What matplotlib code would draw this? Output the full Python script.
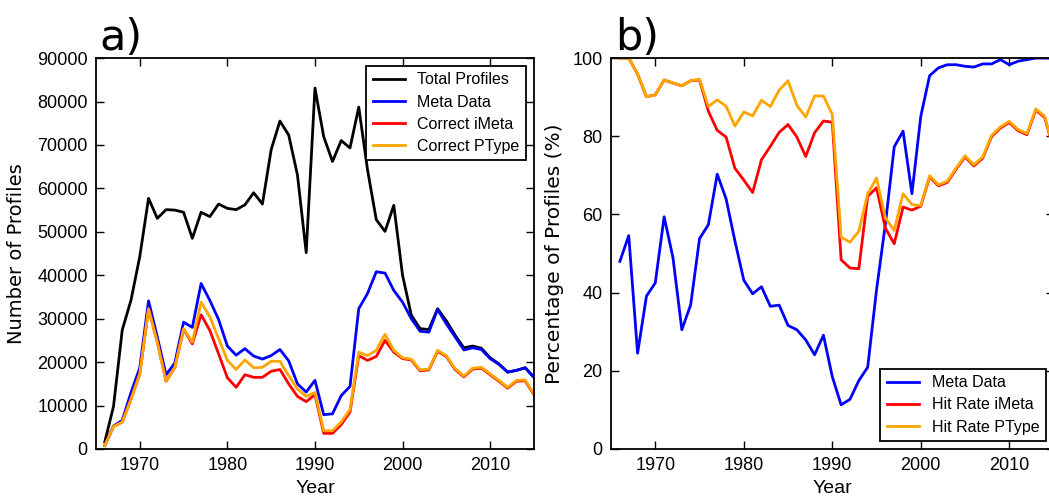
import numpy as np
import matplotlib
matplotlib.use('Agg')
import matplotlib.pyplot as plt
from matplotlib import font_manager

years = np.arange(1966, 2016)

# a) Anzahl Profile (in Tausend)
total_k = [1.6, 9.8, 27.4, 34.3, 44.3, 57.7, 53.1, 55.1, 55.0, 54.5,
           48.5, 54.5, 53.5, 56.4, 55.4, 55.1, 56.2, 59.0, 56.4, 68.9,
           75.5, 72.3, 63.1, 45.2, 83.1, 71.9, 66.2, 71.0, 69.3, 78.7,
           64.3, 52.8, 50.1, 56.1, 40.0, 30.8, 27.7, 27.5, 32.3, 29.5,
           26.2, 23.3, 23.7, 23.2, 21.0, 19.6, 17.7, 18.1, 18.7, 16.5]
meta_k = [0.8, 5.3, 6.6, 13.0, 18.7, 34.1, 25.8, 17.1, 19.8, 29.2,
          28.0, 38.1, 34.2, 29.8, 23.7, 21.6, 23.1, 21.4, 20.7, 21.5,
          22.9, 20.3, 15.0, 13.1, 15.8, 7.9, 8.1, 12.3, 14.4, 32.3,
          35.8, 40.8, 40.5, 36.5, 33.8, 30.0, 27.1, 26.9, 32.1, 28.8,
          25.8, 22.8, 23.3, 22.9, 20.8, 19.5, 17.7, 18.1, 18.7, 16.5]
imeta_k = [0.8, 5.2, 6.2, 11.5, 17.3, 32.3, 24.6, 15.6, 18.8, 27.6,
           24.2, 30.9, 27.3, 21.9, 16.4, 14.2, 17.1, 16.5, 16.5, 17.9,
           18.3, 15.0, 12.1, 10.9, 12.5, 3.6, 3.6, 5.6, 8.5, 21.5,
           20.4, 21.3, 25.0, 22.3, 20.8, 20.5, 18.0, 18.2, 22.5, 21.3,
           18.3, 16.6, 18.4, 18.6, 17.1, 15.6, 14.0, 15.6, 15.7, 12.5]
ptype_k = [0.8, 5.2, 6.2, 11.5, 17.3, 32.3, 24.6, 15.6, 18.8, 27.7,
           24.6, 33.8, 30.4, 25.4, 20.4, 18.3, 20.5, 18.7, 18.8, 20.2,
           20.2, 16.9, 13.8, 12.1, 13.0, 4.2, 4.2, 6.2, 9.1, 22.3,
           21.5, 22.7, 26.4, 22.7, 21.0, 20.7, 18.2, 18.4, 22.7, 21.5,
           18.5, 16.8, 18.6, 18.8, 17.3, 15.8, 14.2, 15.8, 15.9, 12.7]

# b) Prozent
meta_pct = [48.0, 54.6, 24.5, 39.1, 42.5, 59.4, 48.9, 30.5, 36.9, 53.8,
            57.4, 70.3, 64.0, 53.2, 43.2, 39.7, 41.5, 36.5, 36.8, 31.6,
            30.5, 27.9, 24.1, 29.1, 18.5, 11.3, 12.7, 17.5, 20.9, 40.7,
            57.5, 77.3, 81.3, 65.3, 85.1, 95.5, 97.5, 98.3, 98.3, 97.9,
            97.7, 98.5, 98.5, 99.6, 98.3, 99.2, 99.6, 100, 100, 100]
imeta_pct = [100, 100, 95.9, 90.1, 90.6, 94.4, 93.6, 92.9, 94.2, 94.4,
             86.4, 81.5, 79.8, 71.8, 68.8, 65.6, 74.0, 77.4, 81.0, 83.0,
             79.8, 74.8, 80.9, 83.9, 83.6, 48.4, 46.3, 46.1, 64.6, 66.8,
             56.5, 52.5, 61.9, 61.1, 62.1, 69.6, 67.3, 68.2, 71.6, 74.7,
             72.4, 74.4, 79.9, 82.1, 83.5, 81.4, 80.4, 86.7, 84.8, 76.7]
ptype_pct = [100, 100, 95.9, 90.1, 90.6, 94.4, 93.6, 92.9, 94.2, 94.6,
             87.6, 89.3, 87.7, 82.6, 86.2, 85.2, 89.2, 87.6, 91.8, 94.2,
             87.9, 84.9, 90.3, 90.3, 85.6, 54.2, 52.9, 55.7, 65.3, 69.3,
             59.1, 55.9, 65.3, 62.5, 62.3, 69.9, 67.6, 68.5, 71.9, 75.0,
             72.7, 74.7, 80.2, 82.4, 83.8, 81.7, 80.7, 87.0, 85.1, 77.0]

names = {f.name for f in font_manager.fontManager.ttflist}
narrow = 'Liberation Sans Narrow' if 'Liberation Sans Narrow' in names else 'Liberation Sans'
plt.rcParams['font.family'] = [narrow, 'DejaVu Sans']

fig = plt.figure(figsize=(10.49, 4.98), dpi=100)
ax1 = fig.add_axes([0.0915, 0.0984, 0.4175, 0.785])
ax2 = fig.add_axes([0.5825, 0.0984, 0.4218, 0.785])

lw = 2
ax1.plot(years, np.array(total_k) * 1000, color='black', lw=lw, label='Total Profiles')
ax1.plot(years, np.array(meta_k) * 1000, color='blue', lw=lw, label='Meta Data')
ax1.plot(years, np.array(imeta_k) * 1000, color='red', lw=lw, label='Correct iMeta')
ax1.plot(years, np.array(ptype_k) * 1000, color='orange', lw=lw, label='Correct PType')

ax2.plot(years, meta_pct, color='blue', lw=lw, label='Meta Data')
ax2.plot(years, imeta_pct, color='red', lw=lw, label='Hit Rate iMeta')
ax2.plot(years, ptype_pct, color='orange', lw=lw, label='Hit Rate PType')

ax1.set_ylim(0, 90000)
ax1.set_yticks(np.arange(0, 90001, 10000))
ax2.set_ylim(0, 100)
ax2.set_yticks(np.arange(0, 101, 20))

for ax in (ax1, ax2):
    ax.set_xlim(1965, 2015)
    ax.set_xticks([1970, 1980, 1990, 2000, 2010])
    ax.tick_params(direction='in', top=True, right=True, length=6, width=1,
                   labelsize=13, pad=6)
    for s in ax.spines.values():
        s.set_linewidth(1.3)
    ax.set_xlabel('Year', fontsize=14)

ax1.set_ylabel('Number of Profiles', fontsize=14, family='DejaVu Sans', labelpad=8)
ax2.set_ylabel('Percentage of Profiles (%)', fontsize=14.5, family='DejaVu Sans', labelpad=6)

leg1 = ax1.legend(loc='upper right', fancybox=False, framealpha=1,
                  edgecolor='black', fontsize=11.5, labelspacing=0.45)
leg2 = ax2.legend(loc='lower right', fancybox=False, framealpha=1,
                  edgecolor='black', fontsize=11.5, labelspacing=0.45)
for leg in (leg1, leg2):
    leg.get_frame().set_linewidth(1.3)

fig.text(0.095, 0.9, 'a)', fontsize=31, family='DejaVu Sans')
fig.text(0.586, 0.9, 'b)', fontsize=31, family='DejaVu Sans')

fig.savefig('out.png', dpi=100)
